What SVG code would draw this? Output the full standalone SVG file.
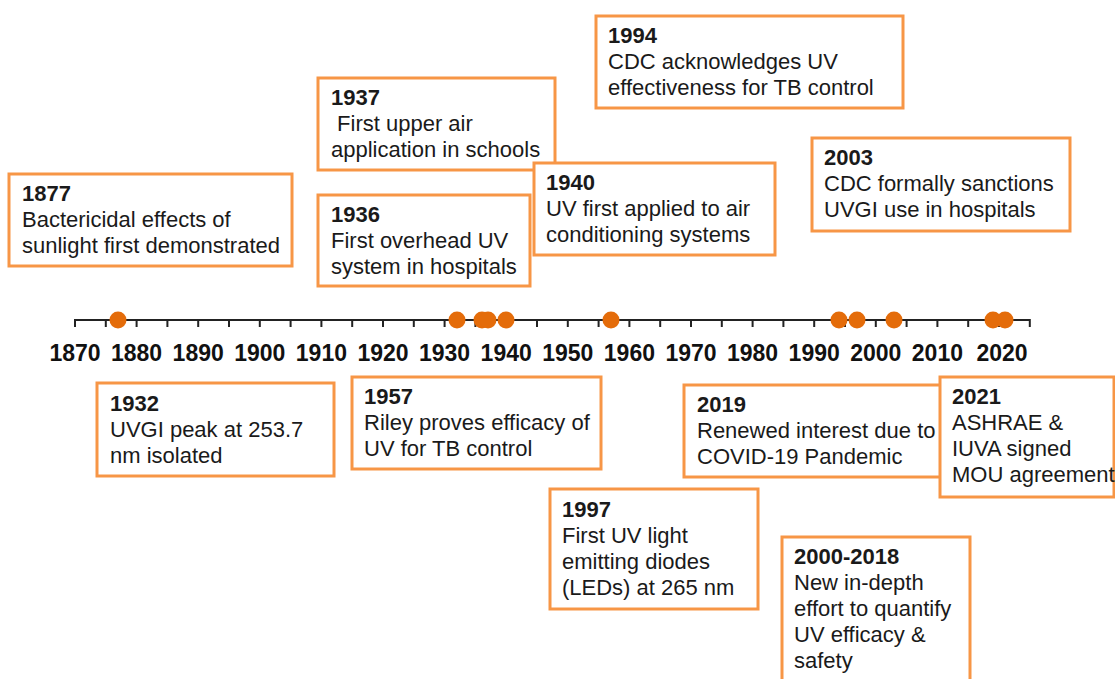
<svg xmlns="http://www.w3.org/2000/svg" width="1115" height="679" viewBox="0 0 1115 679">
<style>
.box{fill:#fff;stroke:#F79646;stroke-width:3}
.t{font-family:"Liberation Sans",Arial,sans-serif;font-size:22px;fill:#1a1a1a}
.y{font-weight:bold}
.ax{font-family:"Liberation Sans",Arial,sans-serif;font-size:23px;font-weight:bold;fill:#111;text-anchor:middle}
.dot{fill:#E46C0A}
</style>
<rect width="1115" height="679" fill="#fff"/>
<g id="axis">
<line x1="75" y1="320" x2="1030" y2="320" stroke="#222" stroke-width="2"/>
<path id="ticks" stroke="#222" stroke-width="2" d="M75,319v8M105.8,319v8M136.6,319v8M167.4,319v8M198.2,319v8M229,319v8M259.8,319v8M290.6,319v8M321.4,319v8M352.2,319v8M383,319v8M413.8,319v8M444.6,319v8M475.4,319v8M506.2,319v8M537,319v8M567.8,319v8M598.6,319v8M629.4,319v8M660.2,319v8M691,319v8M721.8,319v8M752.6,319v8M783.4,319v8M814.2,319v8M845,319v8M875.8,319v8M906.6,319v8M937.4,319v8M968.2,319v8M999,319v8M1029.8,319v8"/>
<g class="ax">
<text x="75" y="361">1870</text><text x="136.6" y="361">1880</text><text x="198.2" y="361">1890</text><text x="259.8" y="361">1900</text><text x="321.4" y="361">1910</text><text x="383" y="361">1920</text><text x="444.6" y="361">1930</text><text x="506.2" y="361">1940</text><text x="567.8" y="361">1950</text><text x="629.4" y="361">1960</text><text x="691" y="361">1970</text><text x="752.6" y="361">1980</text><text x="814.2" y="361">1990</text><text x="875.8" y="361">2000</text><text x="937.4" y="361">2010</text><text x="1002" y="361">2020</text>
</g>
</g>
<g id="dots">
<circle class="dot" cx="118" cy="320" r="8.5"/>
<circle class="dot" cx="457" cy="320" r="8.5"/>
<circle class="dot" cx="482" cy="320" r="8.5"/>
<circle class="dot" cx="488" cy="320" r="8.5"/>
<circle class="dot" cx="506" cy="320" r="8.5"/>
<circle class="dot" cx="611" cy="320" r="8.5"/>
<circle class="dot" cx="839" cy="320" r="8.5"/>
<circle class="dot" cx="857" cy="320" r="8.5"/>
<circle class="dot" cx="894" cy="320" r="8.5"/>
<circle class="dot" cx="993" cy="320" r="8.5"/>
<circle class="dot" cx="1005" cy="320" r="8.5"/>
</g>
<g id="connectors"></g>
<g id="n1877"><rect class="box" x="9" y="174" width="283" height="92"/>
<text class="t" x="22"><tspan class="y" x="22" y="201">1877</tspan><tspan x="22" y="227">Bactericidal effects of</tspan><tspan x="22" y="253">sunlight first demonstrated</tspan></text></g>
<g id="n1937"><rect class="box" x="318" y="78" width="237" height="92"/>
<text class="t"><tspan class="y" x="331" y="105">1937</tspan><tspan x="331" y="131" xml:space="preserve"> First upper air</tspan><tspan x="331" y="157">application in schools</tspan></text></g>
<g id="n1936"><rect class="box" x="318" y="195" width="212" height="91"/>
<text class="t"><tspan class="y" x="331" y="222">1936</tspan><tspan x="331" y="248">First overhead UV</tspan><tspan x="331" y="274">system in hospitals</tspan></text></g>
<g id="n1940"><rect class="box" x="534" y="163" width="241" height="92"/>
<text class="t"><tspan class="y" x="546" y="190">1940</tspan><tspan x="546" y="216">UV first applied to air</tspan><tspan x="546" y="242">conditioning systems</tspan></text></g>
<g id="n1994"><rect class="box" x="596" y="16" width="307" height="92"/>
<text class="t"><tspan class="y" x="608" y="43">1994</tspan><tspan x="608" y="69">CDC acknowledges UV</tspan><tspan x="608" y="95">effectiveness for TB control</tspan></text></g>
<g id="n2003"><rect class="box" x="812" y="138" width="258" height="93"/>
<text class="t"><tspan class="y" x="824" y="165">2003</tspan><tspan x="824" y="191">CDC formally sanctions</tspan><tspan x="824" y="217">UVGI use in hospitals</tspan></text></g>
<g id="n1932"><rect class="box" x="97" y="383" width="237" height="93"/>
<text class="t"><tspan class="y" x="110" y="411">1932</tspan><tspan x="110" y="437">UVGI peak at 253.7</tspan><tspan x="110" y="463">nm isolated</tspan></text></g>
<g id="n1957"><rect class="box" x="352" y="377" width="249" height="92"/>
<text class="t"><tspan class="y" x="364" y="404">1957</tspan><tspan x="364" y="430">Riley proves efficacy of</tspan><tspan x="364" y="456">UV for TB control</tspan></text></g>
<g id="n2019"><rect class="box" x="684" y="385" width="258" height="92"/>
<text class="t"><tspan class="y" x="697" y="412">2019</tspan><tspan x="697" y="438">Renewed interest due to</tspan><tspan x="697" y="464">COVID-19 Pandemic</tspan></text></g>
<g id="n2021"><rect class="box" x="940" y="377" width="174" height="120"/>
<text class="t"><tspan class="y" x="952" y="404">2021</tspan><tspan x="952" y="430">ASHRAE &amp;</tspan><tspan x="952" y="456">IUVA signed</tspan><tspan x="952" y="482">MOU agreement</tspan></text></g>
<g id="n1997"><rect class="box" x="550" y="489" width="208" height="120"/>
<text class="t"><tspan class="y" x="562" y="517">1997</tspan><tspan x="562" y="543">First UV light</tspan><tspan x="562" y="569">emitting diodes</tspan><tspan x="562" y="595">(LEDs) at 265 nm</tspan></text></g>
<g id="n2000"><rect class="box" x="782" y="537" width="188" height="160"/>
<text class="t"><tspan class="y" x="794" y="564">2000-2018</tspan><tspan x="794" y="590">New in-depth</tspan><tspan x="794" y="616">effort to quantify</tspan><tspan x="794" y="642">UV efficacy &amp;</tspan><tspan x="794" y="668">safety</tspan></text></g>
</svg>
